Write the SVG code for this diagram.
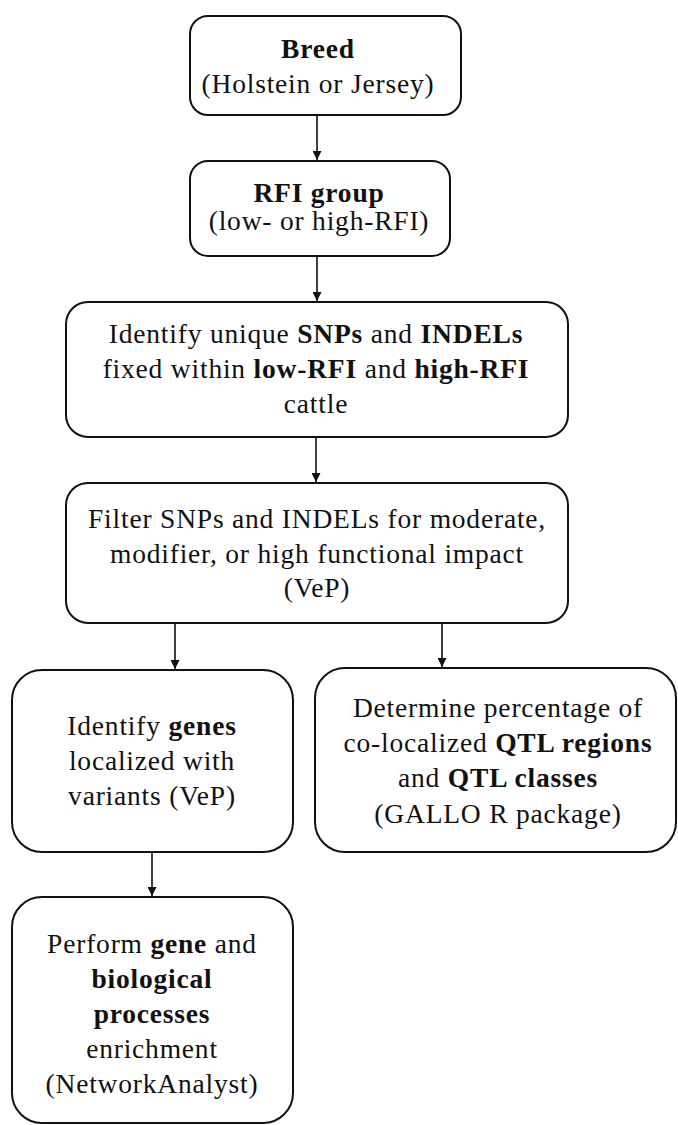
<svg xmlns="http://www.w3.org/2000/svg" width="678" height="1125" viewBox="0 0 678 1125">
  <defs>
    <marker id="arrow" viewBox="0 0 10 10" refX="10" refY="5" markerWidth="9" markerHeight="9" markerUnits="userSpaceOnUse" orient="auto">
      <path d="M0,0 L10,5 L0,10 z" fill="#111"/>
    </marker>
    <style>
      .box { fill: #fff; stroke: #111; stroke-width: 2; }
      .lbl { font-family: "Liberation Serif", "Times New Roman", serif; font-size: 27.5px; letter-spacing: 0.8px; fill: #111; text-anchor: middle; }
      .b { font-weight: bold; }
      .conn { stroke: #111; stroke-width: 1.6; fill: none; marker-end: url(#arrow); }
    </style>
  </defs>
  <rect width="678" height="1125" fill="#fff"/>

  <g id="connectors">
    <line class="conn" x1="317" y1="115" x2="317" y2="160"/>
    <line class="conn" x1="317" y1="256" x2="317" y2="301"/>
    <line class="conn" x1="316" y1="437" x2="316" y2="482"/>
    <line class="conn" x1="175" y1="623" x2="175" y2="669"/>
    <line class="conn" x1="442" y1="623" x2="442" y2="667"/>
    <line class="conn" x1="152" y1="852" x2="152" y2="896"/>
  </g>

  <g id="breed">
    <rect class="box" x="190" y="16" width="271" height="99" rx="18"/>
    <text class="lbl" x="318" y="58"><tspan class="b">Breed</tspan></text>
    <text class="lbl" x="318" y="93">(Holstein or Jersey)</text>
  </g>

  <g id="rfi-group">
    <rect class="box" x="190" y="161" width="260" height="95" rx="18"/>
    <text class="lbl" x="319" y="202"><tspan class="b">RFI group</tspan></text>
    <text class="lbl" x="319" y="230">(low- or high-RFI)</text>
  </g>

  <g id="identify-variants">
    <rect class="box" x="66" y="302" width="502" height="135" rx="22"/>
    <text class="lbl" x="316" y="343">Identify unique <tspan class="b">SNPs</tspan> and <tspan class="b">INDELs</tspan></text>
    <text class="lbl" x="316" y="378">fixed within <tspan class="b">low-RFI</tspan> and <tspan class="b">high-RFI</tspan></text>
    <text class="lbl" x="316" y="413">cattle</text>
  </g>

  <g id="filter-impact">
    <rect class="box" x="66" y="483" width="502" height="140" rx="22"/>
    <text class="lbl" x="317" y="528">Filter SNPs and INDELs for moderate,</text>
    <text class="lbl" x="317" y="563">modifier, or high functional impact</text>
    <text class="lbl" x="317" y="597">(VeP)</text>
  </g>

  <g id="identify-genes">
    <rect class="box" x="12" y="670" width="281" height="182" rx="30"/>
    <text class="lbl" x="152" y="735">Identify <tspan class="b">genes</tspan></text>
    <text class="lbl" x="152" y="770">localized with</text>
    <text class="lbl" x="152" y="805">variants (VeP)</text>
  </g>

  <g id="qtl-colocalization">
    <rect class="box" x="315" y="668" width="361" height="184" rx="30"/>
    <text class="lbl" x="498" y="717">Determine percentage of</text>
    <text class="lbl" x="498" y="752">co-localized <tspan class="b">QTL regions</tspan></text>
    <text class="lbl" x="498" y="787">and <tspan class="b">QTL classes</tspan></text>
    <text class="lbl" x="498" y="823">(GALLO R package)</text>
  </g>

  <g id="enrichment">
    <rect class="box" x="12" y="897" width="281" height="226" rx="30"/>
    <text class="lbl" x="152" y="953">Perform <tspan class="b">gene</tspan> and</text>
    <text class="lbl" x="152" y="988"><tspan class="b">biological</tspan></text>
    <text class="lbl" x="152" y="1023"><tspan class="b">processes</tspan></text>
    <text class="lbl" x="152" y="1058">enrichment</text>
    <text class="lbl" x="152" y="1093">(NetworkAnalyst)</text>
  </g>
</svg>
